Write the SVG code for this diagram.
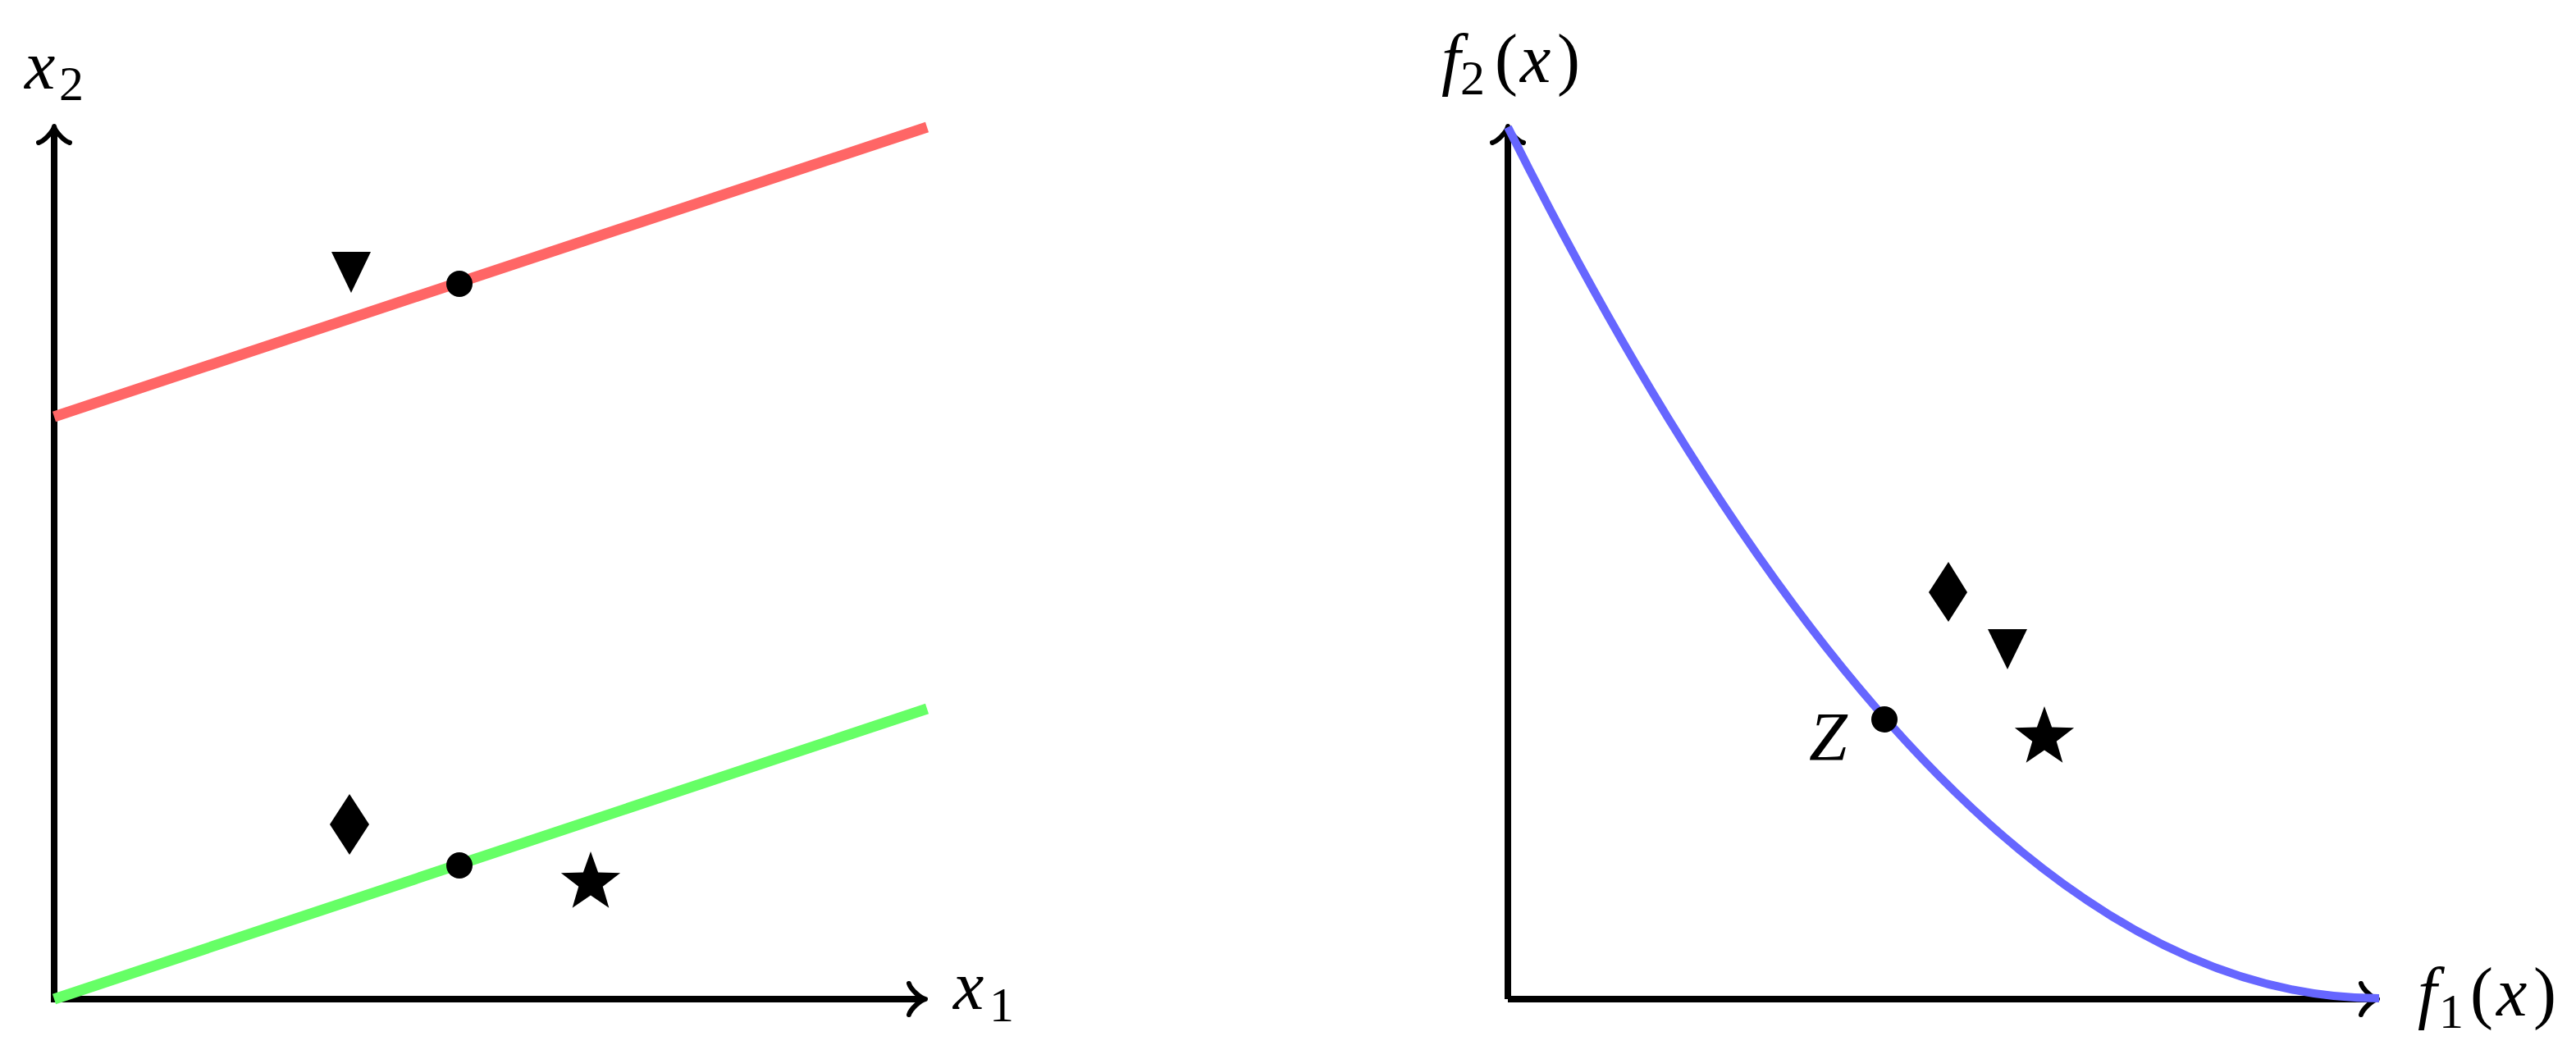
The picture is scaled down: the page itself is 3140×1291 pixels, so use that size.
<svg xmlns="http://www.w3.org/2000/svg" width="3140" height="1291" viewBox="0 0 3140 1291">
<style>
.axis{stroke:#000;stroke-width:8;fill:none;stroke-linecap:butt}
.head{stroke:#000;stroke-width:6;fill:none;stroke-linecap:round;stroke-linejoin:round}
text{font-family:'Liberation Serif',serif;font-size:84px;fill:#000}
.it{font-style:italic}
.sub{font-size:60px;font-style:normal}
.mark{fill:#000}
</style>
<defs>
<path id="arrow" d="M -20,-19 C -18,-12 -6,-1 0,0 C -6,1 -18,12 -20,19"/>
<polygon id="star" points="0,-38 9.11,-12.54 36.14,-11.74 14.74,4.79 22.34,30.74 0,15.5 -22.34,30.74 -14.74,4.79 -36.14,-11.74 -9.11,-12.54"/>
</defs>
<rect width="3140" height="1291" fill="#fff"/>
<g id="connectors">
<g id="left-axes">
<line class="axis" x1="66" y1="1222" x2="66" y2="156"/>
<line class="axis" x1="62" y1="1218" x2="1126" y2="1218"/>
<use href="#arrow" class="head" transform="translate(66,154) rotate(-90)"/>
<use href="#arrow" class="head" transform="translate(1128,1218)"/>
</g>
<g id="right-axes">
<line class="axis" x1="1838" y1="1218" x2="1838" y2="156"/>
<line class="axis" x1="1838" y1="1218" x2="2896" y2="1218"/>
<use href="#arrow" class="head" transform="translate(1838,154) rotate(-90)"/>
<use href="#arrow" class="head" transform="translate(2898,1218)"/>
</g>
<line id="red-line" x1="66" y1="508" x2="1130" y2="155" stroke="#FF6666" stroke-width="13"/>
<line id="green-line" x1="66" y1="1218" x2="1130" y2="864" stroke="#66FF66" stroke-width="13"/>
<path id="blue-curve" d="M 1838,155 Q 2369,1217 2900,1217" stroke="#6666FF" stroke-width="10" fill="none"/>
</g>
<g id="label-x2"><text font-family="Liberation Serif, serif"><tspan class="it" x="30" y="108">x</tspan><tspan class="sub" x="72" y="122">2</tspan></text></g>
<g id="label-x1"><text font-family="Liberation Serif, serif"><tspan class="it" x="1162" y="1230">x</tspan><tspan class="sub" x="1206" y="1245">1</tspan></text></g>
<g id="label-f2"><text font-family="Liberation Serif, serif"><tspan class="it" x="1757" y="100">f</tspan><tspan class="sub" x="1780" y="115">2</tspan><tspan x="1822" y="100">(</tspan><tspan class="it" x="1853" y="100">x</tspan><tspan x="1898" y="100">)</tspan></text></g>
<g id="label-f1"><text font-family="Liberation Serif, serif"><tspan class="it" x="2947" y="1238">f</tspan><tspan class="sub" x="2973" y="1253">1</tspan><tspan x="3011" y="1238">(</tspan><tspan class="it" x="3043" y="1238">x</tspan><tspan x="3088" y="1238">)</tspan></text></g>
<g id="label-Z"><text class="it" font-family="Liberation Serif, serif" x="2205" y="927">Z</text></g>
<g id="dot-red"><circle class="mark" cx="560" cy="346" r="16"/></g>
<g id="dot-green"><circle class="mark" cx="560" cy="1055" r="16"/></g>
<g id="dot-Z"><circle class="mark" cx="2297" cy="877" r="16"/></g>
<g id="tri-left"><polygon class="mark" points="404,307 452,307 428,357"/></g>
<g id="diamond-left"><polygon class="mark" points="426,968 450,1005 426,1042 402,1005"/></g>
<g id="star-left"><use href="#star" class="mark" transform="translate(720,1076)"/></g>
<g id="diamond-right"><polygon class="mark" points="2375,685 2398,722 2375,758 2351,722"/></g>
<g id="tri-right"><polygon class="mark" points="2423,767 2471,767 2447,816"/></g>
<g id="star-right"><use href="#star" class="mark" transform="translate(2492,899)"/></g>
</svg>
